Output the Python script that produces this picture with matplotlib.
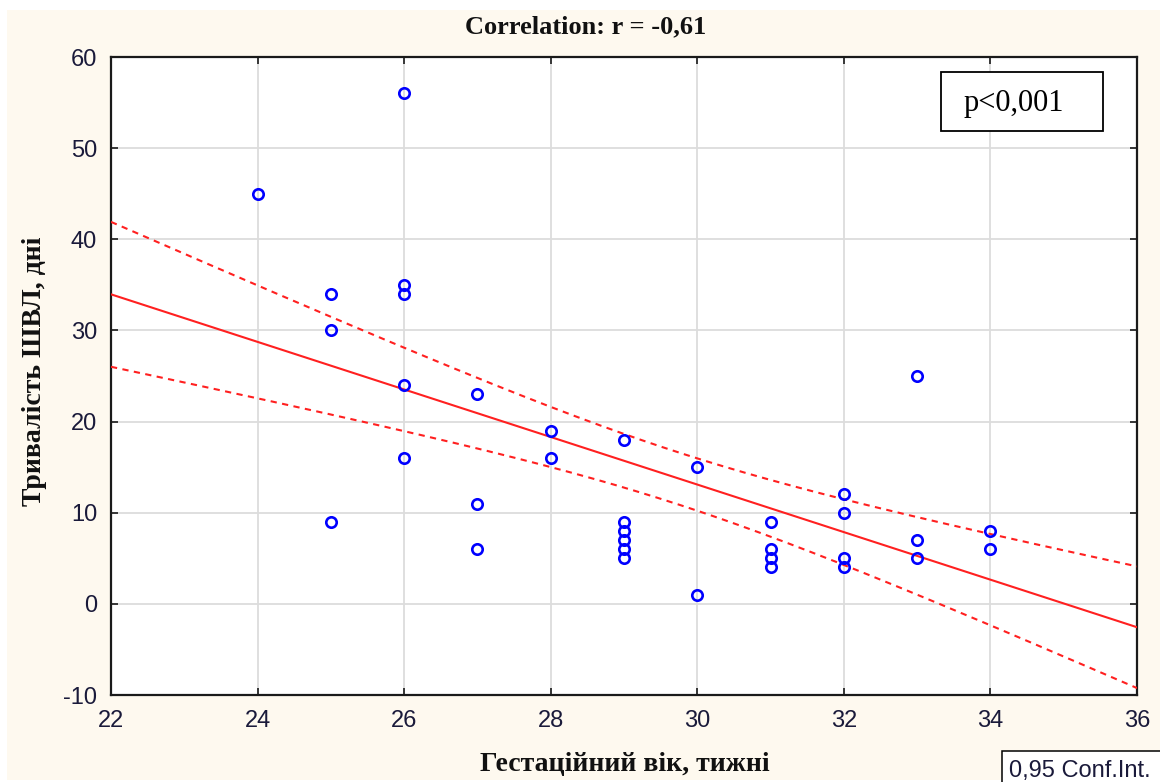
import numpy as np
import matplotlib
matplotlib.use("Agg")
import matplotlib.pyplot as plt
from matplotlib.patches import Rectangle

plt.rcParams['axes.unicode_minus'] = False

# гестаційний вік (тижні) та тривалість ШВЛ (дні)
gest_age = [24,
            25, 25, 25,
            26, 26, 26, 26, 26,
            27, 27, 27,
            28, 28,
            29, 29, 29, 29, 29, 29,
            30, 30,
            31, 31, 31, 31,
            32, 32, 32, 32,
            33, 33, 33,
            34, 34]
vent_days = [45,
             34, 30, 9,
             56, 35, 34, 24, 16,
             23, 11, 6,
             19, 16,
             18, 9, 8, 7, 6, 5,
             15, 1,
             9, 6, 5, 4,
             12, 10, 5, 4,
             25, 7, 5,
             8, 6]

x_ticks = [22, 24, 26, 28, 30, 32, 34, 36]
y_ticks = [-10, 0, 10, 20, 30, 40, 50, 60]

# параметри лінії регресії та 0,95 довірчого інтервалу
fit_intercept = 91.36
fit_slope = -2.609
ci_x0 = 29.72      # центр "пояса" інтервалу
ci_a = 8.17        # квадрат напівширини в центрі
ci_b = 0.923       # розширення від центру

W, H = 1160, 782


def fx(px):
    return px / W


def fy(py):
    return 1 - py / H


x = np.array(gest_age, dtype=float)
y = np.array(vent_days, dtype=float)

xs = np.linspace(22, 36, 200)
ys = fit_intercept + fit_slope * xs
hw = np.sqrt(ci_a + ci_b * (xs - ci_x0) ** 2)

cream = "#fef9ef"
navy = "#1a1a3a"
red = "#ff2020"

fig = plt.figure(figsize=(W / 100, H / 100), dpi=100)
fig.patch.set_facecolor("white")
fig.patches.append(Rectangle((fx(7), fy(780)), 1 - fx(7), fy(10) - fy(780),
                             transform=fig.transFigure, facecolor=cream,
                             edgecolor="none", zorder=-10))

ax = fig.add_axes([fx(111), fy(695), fx(1137 - 111), (695 - 57) / H])
ax.set_facecolor("white")

ax.plot(xs, ys, color=red, lw=1.5, zorder=3)
ax.plot(xs, ys + hw, color=red, lw=1.5, ls=(0, (3, 2.6)), zorder=3)
ax.plot(xs, ys - hw, color=red, lw=1.5, ls=(0, (3, 2.6)), zorder=3)
ax.plot(x, y, ls="none", marker="o", ms=7.5, mfc="none", mec="#0000ff", mew=1.9,
        zorder=4, clip_on=False)

ax.set_xlim(22, 36)
ax.set_ylim(-10, 60)
ax.set_xticks(x_ticks)
ax.set_yticks(y_ticks)
ax.grid(True, color="#dcdcdc", lw=1.3)
ax.set_axisbelow(True)

for sp in ax.spines.values():
    sp.set_linewidth(1.6)
    sp.set_color("#1a1a1a")

ax.tick_params(direction="in", length=5, width=1.2, top=True, right=True,
               labelsize=17, colors="#1a1a1a")
ax.tick_params(axis="x", pad=11)
ax.tick_params(axis="y", pad=10)
for lab in ax.get_xticklabels() + ax.get_yticklabels():
    lab.set_family("Liberation Sans")
    lab.set_color(navy)

# заголовок і підписи осей
fig.text(fx(586), fy(27), "Correlation: r = -0,61", ha="center", va="center",
         family="Liberation Serif", fontweight="bold", fontsize=19, color="#111111")
fig.text(fx(625), fy(765), "Гестаційний вік, тижні", ha="center", va="center",
         family="Liberation Serif", fontweight="bold", fontsize=20, color="#111111")
fig.text(fx(35), fy(371), "Тривалість ШВЛ, дні", ha="center", va="center",
         rotation=90, family="Liberation Serif", fontweight="bold", fontsize=20,
         color="#111111")

# рамка з p-значенням
fig.patches.append(Rectangle((fx(941), fy(131)), fx(162), (131 - 72) / H,
                             transform=fig.transFigure, facecolor="white",
                             edgecolor="black", lw=1.3, zorder=5))
fig.text(fx(1014), fy(104), "p<0,001", ha="center", va="center",
         family="Liberation Serif", fontsize=22, color="black", zorder=6)

# легенда довірчого інтервалу, обрізана краєм
fig.patches.append(Rectangle((fx(1002), fy(800)), fx(200), (800 - 751) / H,
                             transform=fig.transFigure, facecolor="white",
                             edgecolor="black", lw=1.1, zorder=5))
fig.text(fx(1009), fy(777), "0,95 Conf.Int.", ha="left", va="baseline",
         family="Liberation Sans", fontsize=17, color=navy, zorder=6)

fig.savefig("out.png", dpi=100, facecolor=fig.get_facecolor())
